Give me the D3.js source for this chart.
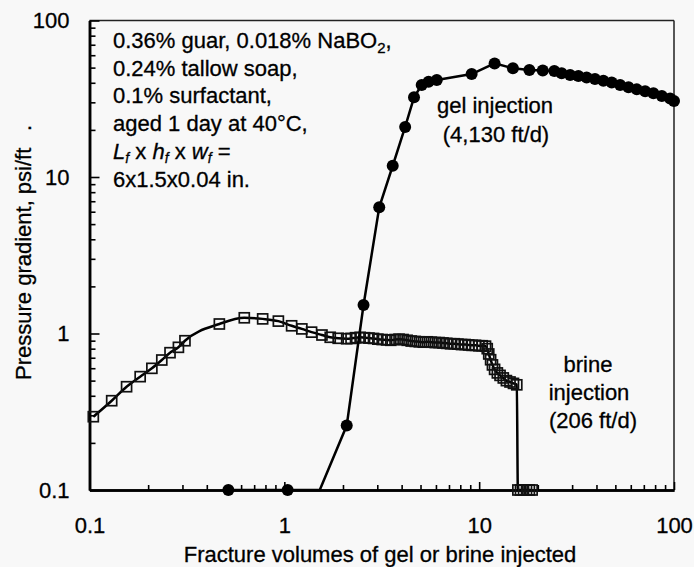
<!DOCTYPE html>
<html><head><meta charset="utf-8">
<script src="https://cdn.jsdelivr.net/npm/d3@7"></script>
<style>body{margin:0;background:#f8f8f8}</style>
</head><body>
<svg id="c" width="694" height="567"></svg>
<script>
// ---- data ----
const xMajor = [0.1, 1, 10, 100];
const xTickLabels = ["0.1", "1", "10", "100"];
const yMajor = [0.1, 1, 10, 100];
const yTickLabels = ["0.1", "1", "10", "100"];

const brineX = [0.1046, 0.130, 0.155, 0.182, 0.209, 0.235, 0.259, 0.286, 0.309, 0.464, 0.623, 0.774, 0.932, 1.09, 1.23, 1.38, 1.56, 1.72, 1.89,
  2.09, 2.2, 2.32, 2.45, 2.58, 2.72, 2.87, 3.02, 3.18, 3.35, 3.52, 3.7, 3.88, 4.07, 4.27, 4.48, 4.7, 4.93, 5.17, 5.42, 5.68, 5.95, 6.23, 6.52,
  6.82, 7.13, 7.45, 7.78, 8.12, 8.47, 8.83, 9.2, 9.58, 9.97, 10.37, 10.78, 11.0, 11.2, 11.45, 11.7, 12.0, 12.4, 12.8, 13.3, 13.8, 14.4, 15.0, 15.6,
  15.8, 16.3, 16.9, 17.5, 18.1, 18.7];
const brineY = [0.294, 0.372, 0.457, 0.530, 0.599, 0.677, 0.754, 0.816, 0.899, 1.15, 1.26, 1.24, 1.20, 1.12, 1.07, 1.02, 0.978, 0.946, 0.932,
  0.926, 0.93, 0.94, 0.945, 0.94, 0.935, 0.93, 0.92, 0.915, 0.91, 0.905, 0.915, 0.92, 0.915, 0.905, 0.895, 0.89, 0.885, 0.88, 0.885, 0.88, 0.875, 0.875, 0.87,
  0.865, 0.86, 0.86, 0.855, 0.85, 0.85, 0.845, 0.84, 0.84, 0.835, 0.835, 0.83, 0.80, 0.74, 0.68, 0.63, 0.59, 0.56, 0.54, 0.52, 0.50, 0.49, 0.48, 0.47,
  0.1, 0.1, 0.1, 0.1, 0.1, 0.1];

const gelX = [0.516, 1.04, 1.52, 2.09, 2.55, 3.07, 3.60, 4.17, 4.63, 5.07, 5.50, 6.06, 9.15, 12.0, 14.9, 18.1, 21.2, 24.3, 26.5, 29.3, 32.3,
  35.6, 39.3, 43.4, 47.9, 52.9, 58.4, 64.4, 71.1, 78.4, 86.6, 95.5, 100];
const gelY = [0.1, 0.1, 0.1, 0.258, 1.52, 6.40, 11.8, 20.9, 32.3, 38.7, 40.6, 41.7, 45.5, 53.2, 49.5, 48.3, 47.9, 47.6, 46.0, 44.9, 44.2,
  43.3, 42.3, 41.2, 40.1, 38.7, 37.4, 36.3, 35.3, 34.3, 32.9, 31.7, 30.6];
const gelNoMarker = [1.52];

// ---- chart ----
const W = 694, H = 567;
const L = 89.5, R = 674, T = 20.5, B = 490;
const FONT = "'Liberation Sans', Arial, Helvetica, sans-serif";
const FS = 22;
const svg = d3.select("#c");
svg.append("rect").attr("width", W).attr("height", H).attr("fill", "#f8f8f8");

const x = d3.scaleLog().domain([0.1, 100]).range([L, R]);
const y = d3.scaleLog().domain([0.1, 100]).range([B, T]);

const minorTicks = [];
for (let e = -1; e < 2; e++) for (let k = 2; k < 10; k++) minorTicks.push(+(k * Math.pow(10, e)).toPrecision(3));

// frame top/right
svg.append("line").attr("x1", L).attr("x2", R).attr("y1", T).attr("y2", T).attr("stroke", "#222").attr("stroke-width", 1.5);
svg.append("line").attr("x1", R).attr("x2", R).attr("y1", T).attr("y2", B).attr("stroke", "#222").attr("stroke-width", 1.5);

function styleAxis(g) {
  g.selectAll(".domain").attr("stroke", "#000").attr("stroke-width", 2.5);
  g.selectAll(".tick line").attr("stroke", "#000").attr("stroke-width", 1.6);
  g.selectAll("text").attr("font-family", FONT).attr("font-size", FS).attr("fill", "#000")
    .attr("stroke", "#000").attr("stroke-width", 0.3);
}

const gy = svg.append("g").attr("transform", `translate(${L},0)`)
  .call(d3.axisLeft(y).tickValues(yMajor).tickFormat((d, i) => yTickLabels[i]).tickSizeInner(-10).tickSizeOuter(0).tickPadding(20));
styleAxis(gy);
const gym = svg.append("g").attr("transform", `translate(${L},0)`)
  .call(d3.axisLeft(y).tickValues(minorTicks).tickFormat("").tickSizeInner(-6).tickSizeOuter(0));
styleAxis(gym);

const gx = svg.append("g").attr("transform", `translate(0,${B})`)
  .call(d3.axisBottom(x).tickValues(xMajor).tickFormat((d, i) => xTickLabels[i]).tickSizeInner(-8).tickSizeOuter(0).tickPadding(27));
styleAxis(gx);
const gxm = svg.append("g").attr("transform", `translate(0,${B})`)
  .call(d3.axisBottom(x).tickValues(minorTicks).tickFormat("").tickSizeInner(-5).tickSizeOuter(0));
styleAxis(gxm);

function txt(sel) {
  return sel.attr("font-family", FONT).attr("font-size", FS).attr("fill", "#000").attr("stroke", "#000").attr("stroke-width", 0.3);
}

// axis titles
txt(svg.append("text")).attr("x", 380).attr("y", 562).attr("text-anchor", "middle")
  .text("Fracture volumes of gel or brine injected");
txt(svg.append("text")).attr("transform", "translate(31,380) rotate(-90)").attr("text-anchor", "start")
  .text("Pressure gradient, psi/ft");
txt(svg.append("text")).attr("transform", "translate(31,131) rotate(-90)").attr("text-anchor", "start").text(".");

// brine series
const brine = brineX.map((v, i) => ({ x: v, y: brineY[i] }));
svg.append("path").datum(brine)
  .attr("d", d3.line().x(d => x(d.x)).y(d => y(d.y)).curve(d3.curveMonotoneX))
  .attr("fill", "none").attr("stroke", "#000").attr("stroke-width", 2.5);
svg.append("g").selectAll("rect").data(brine).join("rect")
  .attr("x", d => x(d.x) - 5).attr("y", d => y(d.y) - 5).attr("width", 10).attr("height", 10)
  .attr("fill", "none").attr("stroke", "#111").attr("stroke-width", 1.7);

// gel series
const gel = gelX.map((v, i) => ({ x: v, y: gelY[i], m: !gelNoMarker.includes(v) }));
svg.append("path").datum(gel)
  .attr("d", d3.line().x(d => x(d.x)).y(d => y(d.y)))
  .attr("fill", "none").attr("stroke", "#000").attr("stroke-width", 2.5);
svg.append("g").selectAll("circle").data(gel.filter(d => d.m)).join("circle")
  .attr("cx", d => x(d.x)).attr("cy", d => y(d.y)).attr("r", 6).attr("fill", "#000");

// annotation text
const ann = txt(svg.append("text"));
const annX = 113;
const l1 = ann.append("tspan").attr("x", annX).attr("y", 48);
l1.append("tspan").text("0.36% guar, 0.018% NaBO");
l1.append("tspan").attr("font-size", 15).attr("dy", 5).text("2");
l1.append("tspan").attr("dy", -5).text(",");
ann.append("tspan").attr("x", annX).attr("y", 76).text("0.24% tallow soap,");
ann.append("tspan").attr("x", annX).attr("y", 103).text("0.1% surfactant,");
ann.append("tspan").attr("x", annX).attr("y", 131).text("aged 1 day at 40°C,");
const l5 = ann.append("tspan").attr("x", annX).attr("y", 159);
[["L", "f"], ["h", "f"], ["w", "f"]].forEach((p, i) => {
  l5.append("tspan").attr("font-style", "italic").text(p[0]);
  l5.append("tspan").attr("font-style", "italic").attr("font-size", 14).attr("dy", 4).text(p[1]);
  l5.append("tspan").attr("dy", -4).text(i < 2 ? " x " : " =");
});
ann.append("tspan").attr("x", annX).attr("y", 187).text("6x1.5x0.04 in.");

// series labels
const gl = txt(svg.append("text")).attr("text-anchor", "middle");
gl.append("tspan").attr("x", 495).attr("y", 113).text("gel injection");
gl.append("tspan").attr("x", 496).attr("y", 142).text("(4,130 ft/d)");
const bl = txt(svg.append("text")).attr("text-anchor", "middle");
bl.append("tspan").attr("x", 588).attr("y", 372).text("brine");
bl.append("tspan").attr("x", 589).attr("y", 400).text("injection");
bl.append("tspan").attr("x", 593).attr("y", 428).text("(206 ft/d)");
</script>
</body></html>
